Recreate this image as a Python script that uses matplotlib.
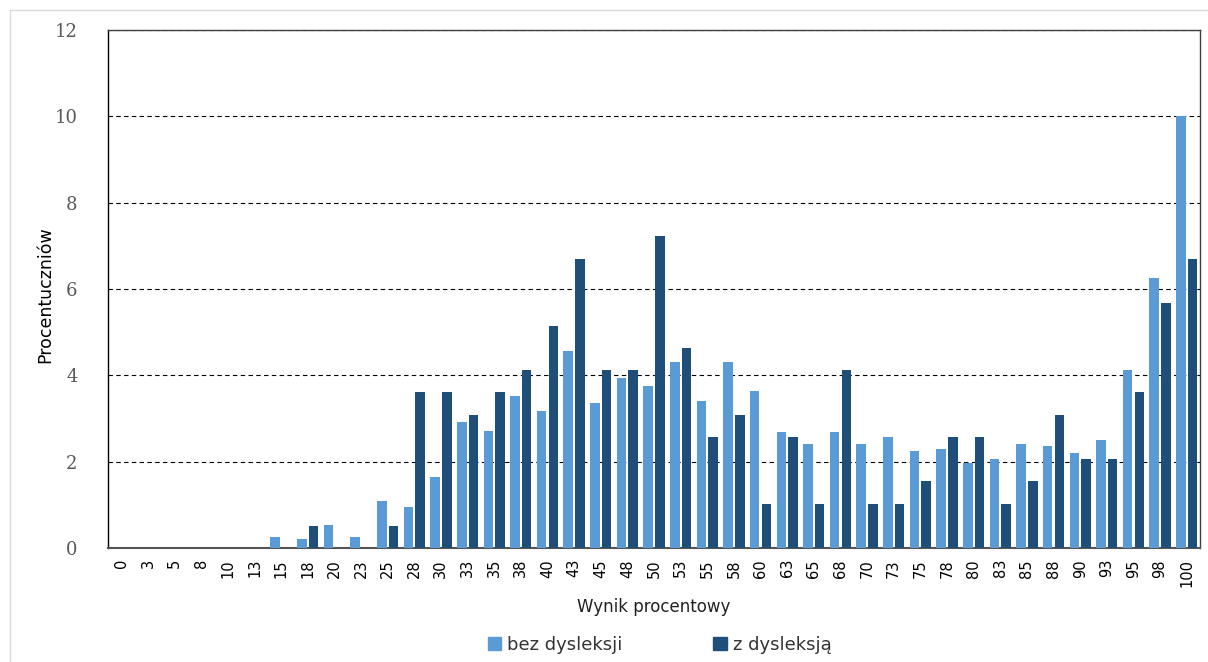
import numpy as np
import matplotlib
matplotlib.use("Agg")
import matplotlib.pyplot as plt
from matplotlib.patches import Patch, Rectangle

# score buckets (percent) and share of pupils in each bucket
wyniki = [0, 3, 5, 8, 10, 13, 15, 18, 20, 23, 25, 28, 30, 33, 35, 38, 40, 43, 45, 48,
          50, 53, 55, 58, 60, 63, 65, 68, 70, 73, 75, 78, 80, 83, 85, 88, 90, 93, 95, 98, 100]

bez_dysleksji = [0, 0, 0, 0, 0, 0, 0.25, 0.20, 0.53, 0.25, 1.08, 0.96, 1.65, 2.92, 2.70,
                 3.51, 3.18, 4.56, 3.35, 3.94, 3.75, 4.30, 3.40, 4.30, 3.63, 2.68, 2.42,
                 2.69, 2.42, 2.57, 2.24, 2.30, 1.97, 2.07, 2.42, 2.36, 2.19, 2.51, 4.13,
                 6.26, 10.0]

z_dysleksja = [0, 0, 0, 0, 0, 0, 0, 0.52, 0, 0, 0.52, 3.61, 3.61, 3.09, 3.61, 4.12, 5.15,
               6.70, 4.12, 4.12, 7.22, 4.64, 2.58, 3.09, 1.03, 2.58, 1.03, 4.12, 1.03,
               1.03, 1.55, 2.58, 2.58, 1.03, 1.55, 3.09, 2.06, 2.06, 3.61, 5.67, 6.70]

jasny = "#5b9bd5"
ciemny = "#1f4e79"

fig = plt.figure(figsize=(12.08, 6.62), dpi=100)
ax = fig.add_axes([0.0894, 0.1722, 0.904, 0.7825])

x = np.arange(len(wyniki))
w = 0.36
ax.bar(x - 0.22, bez_dysleksji, width=w, color=jasny, linewidth=0, zorder=3)
ax.bar(x + 0.22, z_dysleksja, width=w, color=ciemny, linewidth=0, zorder=3)

ax.set_xlim(-0.5, len(wyniki) - 0.5)
ax.set_ylim(0, 12)
ax.set_yticks(range(0, 13, 2))
ax.yaxis.grid(True, linestyle=(0, (4, 3)), color="black", linewidth=0.8, zorder=0)
ax.set_axisbelow(True)

for s in ax.spines.values():
    s.set_color("#404040")
    s.set_linewidth(1.0)
ax.spines["left"].set_color("black")
ax.spines["bottom"].set_color("#555555")
ax.spines["bottom"].set_linewidth(1.5)

ax.set_xticks(x)
ax.set_xticklabels([str(v) for v in wyniki], rotation=90, fontsize=10.5)
ax.tick_params(axis="x", length=0, pad=8)
ax.tick_params(axis="y", length=0, pad=22, labelcolor="#595959")
for lab in ax.get_yticklabels():
    lab.set_family("DejaVu Serif")
    lab.set_fontsize(13)

ax.set_xlabel("Wynik procentowy", fontsize=12, color="#222222", labelpad=8)
ax.set_ylabel("Procentuczniów", fontsize=12.5, color="black")
ax.yaxis.set_label_coords(-0.049, 0.49)

uchwyty = [Patch(color=jasny, label="bez dysleksji"),
           Patch(color=ciemny, label="z dysleksją")]
fig.legend(handles=uchwyty, loc="center", bbox_to_anchor=(0.546, 0.026), ncol=2,
           frameon=False, fontsize=13, handlelength=0.75, handleheight=0.75,
           handletextpad=0.35, columnspacing=5.0, labelcolor="#333333")

# thin outer frame of the chart area
fig.patches.append(Rectangle((10 / 1208, -0.01), 1.02, 1 - 10 / 662 + 0.01,
                             transform=fig.transFigure, fill=False,
                             edgecolor="#d9d9d9", linewidth=1.0))

fig.savefig("out.png", dpi=100)
